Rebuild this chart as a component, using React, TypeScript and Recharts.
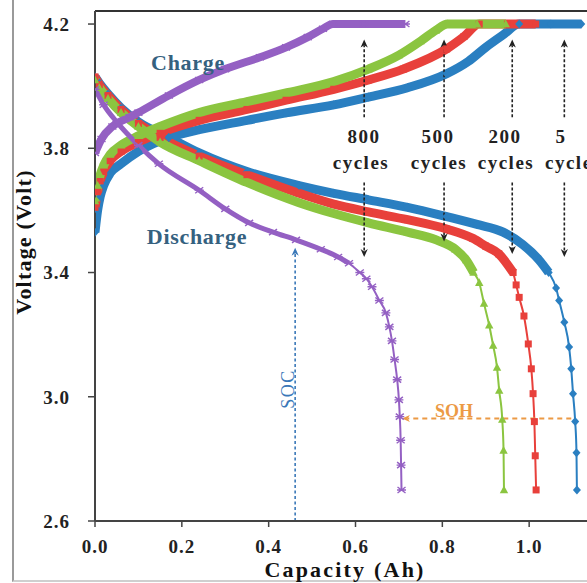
import React from 'react';
import { LineChart, Line, XAxis, YAxis, ReferenceLine } from 'recharts';

const xTicks = [0, 0.2, 0.4, 0.6, 0.8, 1.0];
const yTicks = [2.6, 3.0, 3.4, 3.8, 4.2];

// [capacity (Ah), voltage (V)]
const charge5 = [
  [0, 3.53], [0.006, 3.6], [0.012, 3.645], [0.02, 3.68], [0.035, 3.72], [0.06, 3.75], [0.1, 3.79],
  [0.17, 3.835], [0.24, 3.86], [0.35, 3.89], [0.44, 3.914], [0.55, 3.94], [0.63, 3.965], [0.72, 3.995],
  [0.81, 4.04], [0.86, 4.08], [0.9, 4.125], [0.94, 4.165], [0.977, 4.2], [1.05, 4.2], [1.12, 4.2],
];
const charge200 = [
  [0, 3.61], [0.006, 3.66], [0.012, 3.695], [0.02, 3.725], [0.035, 3.76], [0.06, 3.79], [0.1, 3.82],
  [0.15, 3.85], [0.24, 3.89], [0.35, 3.925], [0.44, 3.955], [0.55, 3.99], [0.63, 4.02], [0.71, 4.055],
  [0.81, 4.12], [0.85, 4.16], [0.885, 4.2], [0.95, 4.2], [1.015, 4.2],
];
const charge500 = [
  [0, 3.63], [0.006, 3.68], [0.012, 3.715], [0.02, 3.745], [0.035, 3.78], [0.06, 3.81], [0.1, 3.84],
  [0.15, 3.87], [0.24, 3.915], [0.35, 3.95], [0.44, 3.978], [0.55, 4.015], [0.63, 4.055], [0.7, 4.1],
  [0.75, 4.145], [0.785, 4.18], [0.812, 4.2], [0.88, 4.2], [0.946, 4.2],
];
const charge800 = [
  [0, 3.785], [0.015, 3.83], [0.04, 3.87], [0.08, 3.9], [0.1, 3.915], [0.17, 3.97], [0.24, 4.02],
  [0.3, 4.055], [0.38, 4.093], [0.44, 4.125], [0.49, 4.158], [0.525, 4.185], [0.548, 4.2], [0.62, 4.2], [0.715, 4.2],
];

const discharge5 = [
  [0, 4.03], [0.01, 4.01], [0.03, 3.975], [0.06, 3.93], [0.1, 3.885], [0.17, 3.835], [0.24, 3.785],
  [0.35, 3.725], [0.47, 3.68], [0.55, 3.655], [0.63, 3.634], [0.72, 3.61], [0.81, 3.58], [0.88, 3.555],
  [0.94, 3.53], [0.985, 3.49], [1.023, 3.44], [1.045, 3.4], [1.062, 3.35], [1.069, 3.31], [1.081, 3.24],
  [1.092, 3.16], [1.097, 3.09], [1.101, 3.01], [1.106, 2.92], [1.109, 2.82], [1.11, 2.7],
];
const discharge200 = [
  [0, 4.03], [0.01, 4.005], [0.03, 3.97], [0.06, 3.925], [0.1, 3.88], [0.15, 3.835], [0.24, 3.775],
  [0.35, 3.715], [0.47, 3.655], [0.55, 3.62], [0.63, 3.595], [0.72, 3.57], [0.81, 3.54], [0.87, 3.51],
  [0.9, 3.485], [0.93, 3.46], [0.963, 3.4], [0.97, 3.36], [0.977, 3.32], [0.988, 3.26], [0.998, 3.17],
  [1.005, 3.09], [1.009, 3.01], [1.012, 2.92], [1.014, 2.81], [1.016, 2.7],
];
const discharge500 = [
  [0, 4.02], [0.01, 3.995], [0.03, 3.96], [0.06, 3.915], [0.1, 3.87], [0.15, 3.82], [0.24, 3.76],
  [0.35, 3.69], [0.47, 3.625], [0.55, 3.59], [0.63, 3.56], [0.72, 3.53], [0.786, 3.505], [0.83, 3.475],
  [0.855, 3.44], [0.872, 3.4], [0.885, 3.367], [0.896, 3.3], [0.908, 3.23], [0.917, 3.165], [0.926, 3.094],
  [0.931, 3.02], [0.938, 2.927], [0.941, 2.827], [0.942, 2.7],
];
const discharge800 = [
  [0, 3.99], [0.02, 3.94], [0.05, 3.885], [0.1, 3.81], [0.147, 3.75], [0.24, 3.665], [0.3, 3.605],
  [0.355, 3.56], [0.41, 3.53], [0.463, 3.505], [0.52, 3.475], [0.56, 3.45], [0.585, 3.43], [0.61, 3.4],
  [0.625, 3.38], [0.638, 3.354], [0.655, 3.31], [0.67, 3.27], [0.678, 3.225], [0.684, 3.18], [0.69, 3.12],
  [0.696, 3.055], [0.7, 2.99], [0.702, 2.936], [0.704, 2.86], [0.705, 2.78], [0.706, 2.7],
];

// cycle label arrows: capacity position, tip of the downward arrow
const cycleArrowX = [0.62, 0.804, 0.961, 1.081];
const cycleArrowDown = [3.45, 3.5, 3.46, 3.45];

const toPts = (a: number[][]) => a.map(([x, y]) => ({ x, y }));

const SERIES = [
  { id: 'c5', color: '#2a7fc1', shape: 'diamond', charge: charge5, discharge: discharge5, knee: 3.4, cband: 9, dband: 9 },
  { id: 'c200', color: '#e8403b', shape: 'square', charge: charge200, discharge: discharge200, knee: 3.4, cband: 9, dband: 9 },
  { id: 'c500', color: '#8bc540', shape: 'triangle', charge: charge500, discharge: discharge500, knee: 3.4, cband: 9, dband: 9 },
  { id: 'c800', color: '#9460c3', shape: 'star', charge: charge800, discharge: discharge800, knee: 3.43, cband: 8, dband: 5 },
];

const SERIF = '"Liberation Serif", "Times New Roman", serif';
const TICK = { fontFamily: SERIF, fontSize: 19, fontWeight: 700, fill: '#222', letterSpacing: 1 };

function marker(shape: string, color: string, id: string) {
  return (p: any) => {
    const { cx, cy, index } = p;
    const k = `${id}-${index}`;
    if (cx == null || cy == null || isNaN(cx) || isNaN(cy)) return <g key={k} />;
    if (shape === 'diamond')
      return <polygon key={k} points={`${cx},${cy - 4.5} ${cx + 4},${cy} ${cx},${cy + 4.5} ${cx - 4},${cy}`} fill={color} />;
    if (shape === 'square')
      return <rect key={k} x={cx - 3.5} y={cy - 3.5} width={7} height={7} fill={color} />;
    if (shape === 'triangle')
      return <polygon key={k} points={`${cx},${cy - 4.5} ${cx + 4.2},${cy + 3.2} ${cx - 4.2},${cy + 3.2}`} fill={color} />;
    return (
      <path key={k} d={`M${cx - 4},${cy - 3}L${cx + 4},${cy + 3}M${cx - 4},${cy + 3}L${cx + 4},${cy - 3}M${cx - 4.5},${cy}L${cx + 4.5},${cy}`}
        stroke={color} strokeWidth={1.4} fill="none" />
    );
  };
}

function arrow(color: string, dash: string, w: number, head = 8) {
  return (p: any) => {
    const { x1, y1, x2, y2 } = p;
    const a = Math.atan2(y2 - y1, x2 - x1);
    const c = Math.cos(a), s = Math.sin(a);
    const bx = x2 - head * c, by = y2 - head * s;
    const nx = -s * head * 0.45, ny = c * head * 0.45;
    const ix = x2 - head * 0.7 * c, iy = y2 - head * 0.7 * s;
    return (
      <g>
        <line x1={x1} y1={y1} x2={ix} y2={iy} stroke={color} strokeWidth={w} strokeDasharray={dash} />
        <path d={`M${x2},${y2}L${bx + nx},${by + ny}L${ix},${iy}L${bx - nx},${by - ny}Z`} fill={color} />
      </g>
    );
  };
}

export default function App() {
  return (
    <div style={{ position: 'absolute', left: 0, top: 0, width: 587, height: 583, overflow: 'hidden', background: '#fff' }}>
      <div style={{ position: 'absolute', left: 12, top: 0, width: 600, height: 580, borderLeft: '2px solid #9a9a9a', borderBottom: '2px solid #cfcfcf' }} />
      <LineChart width={640} height={583} margin={{ top: 11, right: 24, bottom: 22, left: 35 }}>
        <XAxis type="number" dataKey="x" domain={[0, 1.2]} ticks={xTicks} allowDataOverflow
          tickFormatter={(v: number) => v.toFixed(1)} height={40} tick={TICK}
          axisLine={{ stroke: '#444', strokeWidth: 2 }} tickLine={{ stroke: '#444', strokeWidth: 1.5 }}
          tickSize={6} tickMargin={13} />
        <YAxis type="number" domain={[2.6, 4.242]} ticks={yTicks} allowDataOverflow
          tickFormatter={(v: number) => v.toFixed(1)} width={60} tick={TICK}
          axisLine={{ stroke: '#444', strokeWidth: 2 }} tickLine={{ stroke: '#444', strokeWidth: 1.5 }}
          tickSize={7} tickMargin={18} />
        <ReferenceLine y={4.242} stroke="#333" strokeWidth={2} ifOverflow="visible" />

        {SERIES.map((s) => {
          const ch = toPts(s.charge);
          const dis = toPts(s.discharge);
          const disBand = dis.filter((p) => p.y >= s.knee);
          return [
            <Line key={`${s.id}-db`} data={disBand} dataKey="y" type="monotone" stroke={s.color}
              strokeWidth={s.dband} dot={false} activeDot={false} isAnimationActive={false} />,
            <Line key={`${s.id}-d`} data={dis} dataKey="y" type="monotone" stroke={s.color}
              strokeWidth={2} dot={marker(s.shape, s.color, `${s.id}d`)} activeDot={false} isAnimationActive={false} />,
            <Line key={`${s.id}-c`} data={ch} dataKey="y" type="monotone" stroke={s.color}
              strokeWidth={s.cband} dot={marker(s.shape, s.color, `${s.id}c`)} activeDot={false} isAnimationActive={false} />,
          ];
        })}

        {cycleArrowX.map((x, i) => [
          <ReferenceLine key={`up${i}`} segment={[{ x, y: 3.9 }, { x, y: 4.15 }]} ifOverflow="visible"
            shape={arrow('#222', '3 2', 1.6)} />,
          <ReferenceLine key={`dn${i}`} segment={[{ x, y: 3.69 }, { x, y: cycleArrowDown[i] }]} ifOverflow="visible"
            shape={arrow('#222', '3 2', 1.6)} />,
        ])}
        <ReferenceLine segment={[{ x: 0.461, y: 2.6 }, { x: 0.461, y: 3.48 }]} ifOverflow="visible"
          shape={arrow('#3a78b8', '3 2.5', 1.6)} />
        <ReferenceLine segment={[{ x: 1.097, y: 2.93 }, { x: 0.707, y: 2.93 }]} ifOverflow="visible"
          shape={arrow('#ec9a45', '5 4', 2)} />
      </LineChart>

      <svg width={587} height={583} style={{ position: 'absolute', left: 0, top: 0, pointerEvents: 'none' }}>
        <g fontFamily={SERIF} fontWeight={700}>
          <text x={188} y={70} textAnchor="middle" fontSize={22} fill="#35617f" letterSpacing={0.7}>Charge</text>
          <text x={197} y={244} textAnchor="middle" fontSize={22} fill="#35617f" letterSpacing={0.7}>Discharge</text>
          <g fontSize={19} fill="#222" letterSpacing={1.5}>
            <text x={364} y={143} textAnchor="middle">800</text>
            <text x={361} y={169} textAnchor="middle">cycles</text>
            <text x={438} y={143} textAnchor="middle">500</text>
            <text x={439} y={169} textAnchor="middle">cycles</text>
            <text x={505} y={143} textAnchor="middle">200</text>
            <text x={506} y={169} textAnchor="middle">cycles</text>
            <text x={561} y={143} textAnchor="middle">5</text>
            <text x={545} y={169}>cycles</text>
          </g>
          <text x={345} y={577} textAnchor="middle" fontSize={22} fill="#111" letterSpacing={2.2}>Capacity (Ah)</text>
          <text x={23} y={242} textAnchor="middle" dominantBaseline="central" fontSize={22} fill="#111"
            letterSpacing={1.2} transform="rotate(-90 23 242)">Voltage (Volt)</text>
          <text x={454} y={417} textAnchor="middle" fontSize={18} fill="#ec9a45">SOH</text>
        </g>
        <text x={288} y={389} textAnchor="middle" dominantBaseline="central" fontFamily={SERIF} fontSize={18}
          fill="#3a78b8" letterSpacing={1.5} transform="rotate(-90 288 389)">SOC</text>
      </svg>
    </div>
  );
}
